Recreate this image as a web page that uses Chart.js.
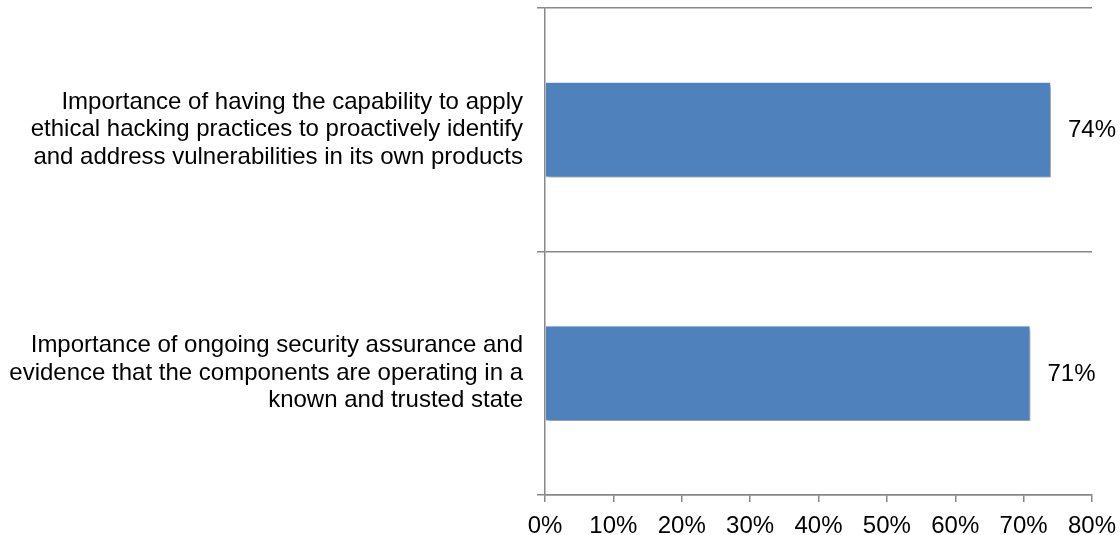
<!DOCTYPE html>
<html>
<head>
<meta charset="utf-8">
<script src="https://cdn.jsdelivr.net/npm/chart.js@4/dist/chart.umd.min.js"></script>
<style>
  html, body { margin: 0; padding: 0; background: #fff; }
  #wrap { width: 1120px; height: 535px; }
</style>
</head>
<body>
<div id="wrap"><canvas id="chart"></canvas></div>
<script>
const categories = [
    ['Importance of having the capability to apply',
     'ethical hacking practices to proactively identify',
     'and address vulnerabilities in its own products'],
    ['Importance of ongoing security assurance and',
     'evidence that the components are operating in a',
     'known and trusted state']
];
const values = [74, 71];
const xTicks = [0, 10, 20, 30, 40, 50, 60, 70, 80];

const axisGrey = '#888888';
const fontFamily = '"Liberation Sans", Arial, sans-serif';

// soft drop shadow under the bars
const barShadow = {
    id: 'barShadow',
    beforeDatasetsDraw(chart) {
        const ctx = chart.ctx;
        ctx.save();
        ctx.shadowColor = 'rgba(0,0,0,0.35)';
        ctx.shadowBlur = 4;
        ctx.shadowOffsetX = 2;
        ctx.shadowOffsetY = 3;
    },
    afterDatasetsDraw(chart) {
        chart.ctx.restore();
    }
};

// percentage written to the right of each bar
const valueLabels = {
    id: 'valueLabels',
    afterDraw(chart) {
        const ctx = chart.ctx;
        const meta = chart.getDatasetMeta(0);
        ctx.save();
        ctx.font = '24px ' + fontFamily;
        ctx.fillStyle = '#000';
        ctx.textAlign = 'left';
        ctx.textBaseline = 'middle';
        meta.data.forEach((bar, i) => {
            ctx.fillText(values[i] + '%', bar.x + 17, bar.y + 1);
        });
        ctx.restore();
    }
};

new Chart(document.getElementById('chart'), {
    type: 'bar',
    data: {
        labels: categories,
        datasets: [{
            data: values,
            backgroundColor: '#4F81BD',
            borderColor: '#dfe7f2',
            borderWidth: 1,
            categoryPercentage: 1,
            barPercentage: 0.392
        }]
    },
    options: {
        indexAxis: 'y',
        responsive: true,
        maintainAspectRatio: false,
        animation: false,
        layout: { padding: { top: 8, right: 28, left: 0, bottom: 0 } },
        plugins: {
            legend: { display: false },
            tooltip: { enabled: false }
        },
        scales: {
            x: {
                min: 0,
                max: 80,
                afterBuildTicks(scale) {
                    scale.ticks = xTicks.map(v => ({ value: v }));
                },
                afterFit(scale) {
                    scale.height = 40;
                    scale.paddingLeft = 0;
                    scale.paddingRight = 0;
                },
                grid: {
                    drawOnChartArea: false,
                    drawTicks: true,
                    tickLength: 7,
                    color: axisGrey,
                    lineWidth: 1.5
                },
                border: { color: axisGrey, width: 1.5 },
                ticks: {
                    color: '#000',
                    padding: 10,
                    font: { family: fontFamily, size: 24 },
                    callback: v => v + '%'
                }
            },
            y: {
                afterFit(scale) {
                    scale.width = 545;
                    scale.paddingTop = 0;
                    scale.paddingBottom = 0;
                },
                grid: {
                    offset: true,
                    tickLength: 8,
                    color: axisGrey,
                    lineWidth: 1.5
                },
                border: { color: axisGrey, width: 1.5 },
                ticks: {
                    color: '#000',
                    padding: 14,
                    font: { family: fontFamily, size: 24, lineHeight: 1.15 }
                }
            }
        }
    },
    plugins: [barShadow, valueLabels]
});
</script>
</body>
</html>
